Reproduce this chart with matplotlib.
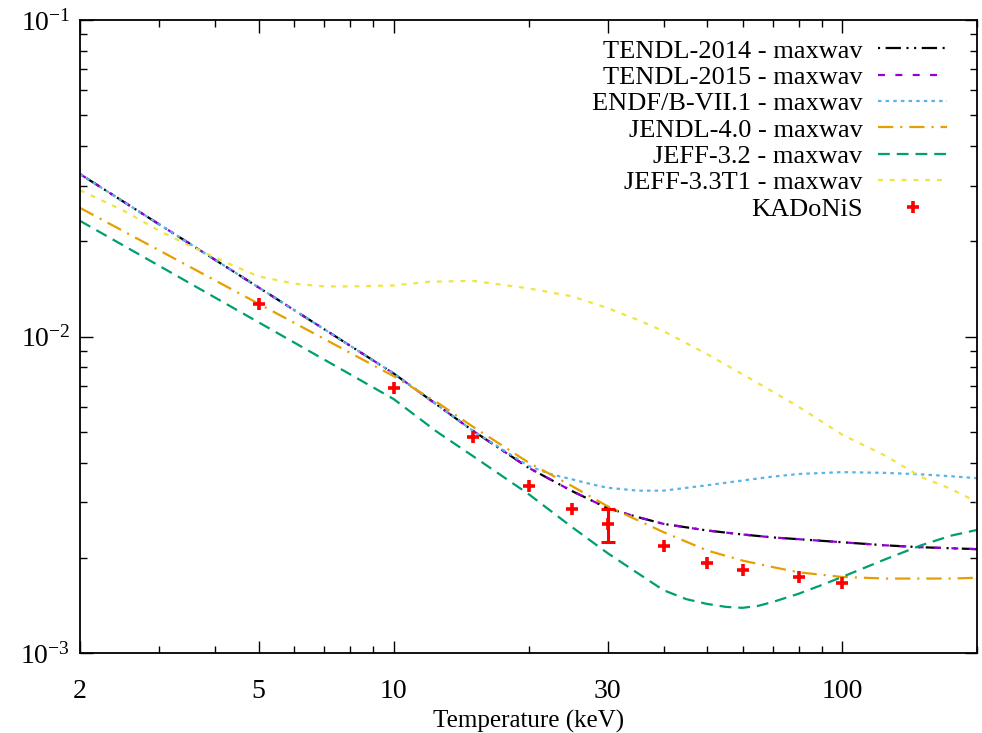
import matplotlib
matplotlib.use("Agg")
import matplotlib.pyplot as plt
from matplotlib.ticker import FixedLocator, NullFormatter, FixedFormatter

plt.rcParams['font.family'] = ['Liberation Serif', 'DejaVu Serif']
plt.rcParams['mathtext.fontset'] = 'custom'
plt.rcParams['mathtext.rm'] = 'Liberation Serif'
plt.rcParams['mathtext.it'] = 'Liberation Serif:italic'
plt.rcParams['lines.scale_dashes'] = False

# Maxwellian-averaged cross sections (b) versus temperature (keV)
tendl_2014_t = [2, 5, 10, 15, 20, 25, 30, 35, 40, 50, 60, 70, 80, 100, 125, 150, 200]
tendl_2014 = [0.0326, 0.0143, 0.00765, 0.00505, 0.00385, 0.00325, 0.00287, 0.00269,
              0.00256, 0.00244, 0.00237, 0.00232, 0.00229, 0.00224, 0.00219, 0.00216,
              0.00213]

tendl_2015_t = [2, 5, 10, 15, 20, 25, 30, 35, 40, 50, 60, 70, 80, 100, 125, 150, 200]
tendl_2015 = [0.0326, 0.0143, 0.00765, 0.00505, 0.00385, 0.00325, 0.00287, 0.00269,
              0.00256, 0.00244, 0.00237, 0.00232, 0.00229, 0.00224, 0.00219, 0.00216,
              0.00213]

endfb_71_t = [2, 5, 10, 15, 20, 22.5, 25, 27.5, 30, 35, 40, 50, 60, 70, 80, 100, 125,
              150, 175, 200]
endfb_71 = [0.0326, 0.0143, 0.00765, 0.00505, 0.00390, 0.00367, 0.00354, 0.00342,
            0.00333, 0.00326, 0.00326, 0.00339, 0.00351, 0.00361, 0.00368, 0.00373,
            0.00371, 0.00367, 0.00362, 0.00357]

jendl_40_t = [2, 5, 10, 12.5, 15, 20, 25, 30, 35, 40, 50, 60, 70, 80, 100, 125, 150,
              175, 200]
jendl_40 = [0.0255, 0.0127, 0.0075, 0.0062, 0.0052, 0.0040, 0.00337, 0.00291, 0.00263,
            0.00241, 0.00211, 0.00196, 0.00187, 0.00180, 0.00174, 0.00172, 0.00172,
            0.00172, 0.00173]

jeff_32_t = [2, 10, 12.5, 15, 20, 25, 30, 35, 40, 45, 50, 55, 60, 65, 70, 80, 90, 100,
             125, 150, 175, 200]
jeff_32 = [0.0232, 0.00635, 0.0050, 0.00420, 0.00318, 0.00250, 0.00207, 0.00179,
           0.00158, 0.00148, 0.00143, 0.00140, 0.00139, 0.00141, 0.00145, 0.00154,
           0.00164, 0.00174, 0.00198, 0.00219, 0.00235, 0.00245]

jeff_33t1_t = [2, 2.5, 3, 3.5, 4, 4.5, 5, 6, 7, 8, 10, 12, 15, 20, 25, 30, 35, 40, 50,
               60, 70, 80, 100, 125, 150, 175, 200]
jeff_33t1 = [0.0290, 0.0250, 0.0216, 0.0194, 0.0178, 0.0165, 0.0155, 0.0147, 0.0144,
             0.0144, 0.0145, 0.0149, 0.0150, 0.0142, 0.0134, 0.0123, 0.0113, 0.0104,
             0.0088, 0.0076, 0.0067, 0.0060, 0.0049, 0.0042, 0.0036, 0.0033, 0.0030]

# KADoNiS recommended values
kad_t = [5, 10, 15, 20, 25, 30, 40, 50, 60, 80, 100]
kad_macs = [0.0127, 0.00686, 0.00480, 0.00337, 0.00285, 0.00255, 0.00218, 0.00193,
            0.00183, 0.00174, 0.00166]
kad_err_lo = [0, 0, 0, 0, 0, 0.00030, 0, 0, 0, 0, 0]
kad_err_hi = [0, 0, 0, 0, 0, 0.00030, 0, 0, 0, 0, 0]

x_ticks = [2, 5, 10, 30, 100]
x_tick_labels = ['2', '5', '10', '30', '100']
y_ticks = [1e-3, 1e-2, 1e-1]
y_tick_labels = [r'$10^{-3}$', r'$10^{-2}$', r'$10^{-1}$']

fig = plt.figure(figsize=(9.82, 7.33), dpi=100)
ax = fig.add_axes([0.0815, 0.109, 0.9135, 0.8637])

lw = 1.6
ax.plot(tendl_2014_t, tendl_2014, color='black', lw=lw,
        dashes=(1.5, 4, 11, 4, 1.5, 4), label='TENDL-2014 - maxwav')
ax.plot(tendl_2015_t, tendl_2015, color='#9400d3', lw=lw,
        dashes=(5, 7.5), label='TENDL-2015 - maxwav')
ax.plot(endfb_71_t, endfb_71, color='#56b4e9', lw=lw,
        dashes=(2.5, 3), label='ENDF/B-VII.1 - maxwav')
ax.plot(jendl_40_t, jendl_40, color='#e69f00', lw=lw,
        dashes=(11, 5, 1.5, 5), label='JENDL-4.0 - maxwav')
ax.plot(jeff_32_t, jeff_32, color='#009e73', lw=lw,
        dashes=(8.5, 5), label='JEFF-3.2 - maxwav')
ax.plot(jeff_33t1_t, jeff_33t1, color='#f0e442', lw=lw,
        dashes=(3.5, 5), label='JEFF-3.3T1 - maxwav')

ax.plot(kad_t, kad_macs, ls='none', marker='+', color='red', ms=8, mew=2.6,
        label='KADoNiS')
err_idx = [i for i in range(len(kad_t)) if kad_err_lo[i] > 0 or kad_err_hi[i] > 0]
ax.errorbar([kad_t[i] for i in err_idx], [kad_macs[i] for i in err_idx],
            yerr=[[kad_err_lo[i] for i in err_idx], [kad_err_hi[i] for i in err_idx]],
            fmt='none', ecolor='red', elinewidth=2.2, capsize=5, capthick=2.2)

ax.set_xscale('log')
ax.set_yscale('log')
ax.set_xlim(2, 200)
ax.set_ylim(1e-3, 1e-1)

ax.xaxis.set_major_locator(FixedLocator(x_ticks))
ax.xaxis.set_major_formatter(FixedFormatter(x_tick_labels))
ax.xaxis.set_minor_locator(FixedLocator([3, 4, 6, 7, 8, 9, 20, 40, 50, 60, 70, 80, 90, 200]))
ax.xaxis.set_minor_formatter(NullFormatter())
ax.yaxis.set_major_locator(FixedLocator(y_ticks))
ax.yaxis.set_major_formatter(FixedFormatter(y_tick_labels))
ax.yaxis.set_minor_locator(FixedLocator([k * 10.0 ** e for e in (-3, -2) for k in range(2, 10)]))
ax.yaxis.set_minor_formatter(NullFormatter())

ax.tick_params(which='both', direction='in', top=True, right=True, width=1.0)
ax.tick_params(which='major', length=9, labelsize=20)
ax.tick_params(axis='x', which='major', pad=19)
ax.tick_params(axis='y', which='major', pad=7)
ax.tick_params(which='minor', length=5)
for s in ax.spines.values():
    s.set_linewidth(1.3)

ax.set_xlabel('Temperature (keV)', fontsize=18, labelpad=4)

leg = ax.legend(loc='upper right', bbox_to_anchor=(0.987, 0.999), frameon=False,
                markerfirst=False, fontsize=19, handlelength=2.6, handletextpad=0.6,
                labelspacing=0.11, borderaxespad=0.3)
for t in leg.get_texts():
    t.set_ha('right')
leg._legend_box.align = 'right'

fig.savefig('out.png', dpi=100)
